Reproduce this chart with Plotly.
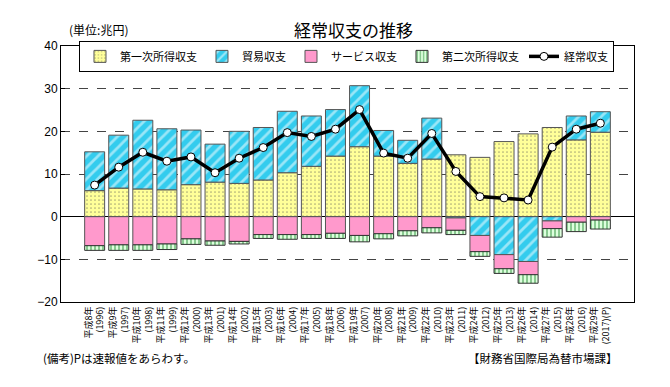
import plotly.graph_objects as go

years = ["平成8年<br>(1996)", "平成9年<br>(1997)", "平成10年<br>(1998)", "平成11年<br>(1999)",
         "平成12年<br>(2000)", "平成13年<br>(2001)", "平成14年<br>(2002)", "平成15年<br>(2003)",
         "平成16年<br>(2004)", "平成17年<br>(2005)", "平成18年<br>(2006)", "平成19年<br>(2007)",
         "平成20年<br>(2008)", "平成21年<br>(2009)", "平成22年<br>(2010)", "平成23年<br>(2011)",
         "平成24年<br>(2012)", "平成25年<br>(2013)", "平成26年<br>(2014)", "平成27年<br>(2015)",
         "平成28年<br>(2016)", "平成29年<br>(2017)(P)"]

primary_income = [6.1, 6.7, 6.5, 6.3, 7.5, 8.1, 7.8, 8.6, 10.3, 11.8, 14.2, 16.4,
                  14.2, 12.5, 13.5, 14.5, 13.9, 17.6, 19.4, 20.9, 18.0, 19.8]
trade = [9.1, 12.4, 16.1, 14.3, 12.8, 8.9, 12.2, 12.3, 14.4, 11.8, 10.9, 14.3,
         6.0, 5.4, 9.6, -0.3, -4.4, -8.9, -10.5, -1.0, 5.6, 4.8]
services = [-6.8, -6.6, -6.6, -6.4, -5.2, -5.7, -5.8, -4.2, -4.2, -4.2, -3.9, -4.4,
            -4.0, -3.3, -2.6, -2.9, -3.8, -3.3, -3.1, -1.8, -1.3, -0.8]
secondary_income = [-1.1, -1.3, -1.3, -1.3, -1.3, -1.0, -0.6, -0.9, -1.1, -0.9, -1.2, -1.5,
                    -1.2, -1.2, -1.2, -1.0, -1.1, -1.1, -2.0, -2.0, -2.2, -2.1]
current_account = [7.4, 11.6, 15.1, 13.0, 14.0, 10.3, 13.7, 16.2, 19.7, 18.8, 20.5, 25.1,
                   14.9, 13.7, 19.5, 10.6, 4.7, 4.4, 3.9, 16.3, 20.5, 21.9]

JP = "Noto Sans CJK JP"
outline = dict(color="#555555", width=1)

fig = go.Figure()
fig.add_trace(go.Bar(
    x=years, y=primary_income, name="第一次所得収支",
    marker=dict(color="#FFFF99", line=outline,
                pattern=dict(shape=".", bgcolor="#FFFF99", fgcolor="#555555",
                             size=4, solidity=0.15)),
))
fig.add_trace(go.Bar(
    x=years, y=trade, name="貿易収支",
    marker=dict(color="#33CCEE", line=outline,
                pattern=dict(shape="/", bgcolor="#33CCEE", fgcolor="#FFFFFF",
                             size=8, solidity=0.35)),
))
fig.add_trace(go.Bar(
    x=years, y=services, name="サービス収支",
    marker=dict(color="#FF99CC", line=outline),
))
fig.add_trace(go.Bar(
    x=years, y=secondary_income, name="第二次所得収支",
    marker=dict(color="#CCFFCC", line=dict(color="#333333", width=1),
                pattern=dict(shape="|", bgcolor="#DDFFDD", fgcolor="#228833",
                             size=4, solidity=0.45)),
))
fig.add_trace(go.Scatter(
    x=years, y=current_account, name="経常収支", mode="lines+markers",
    line=dict(color="black", width=3.5),
    marker=dict(color="white", size=8, line=dict(color="black", width=1)),
))

fig.update_layout(
    width=670, height=387,
    margin=dict(l=53, r=44, t=38, b=93),
    barmode="relative", bargap=0.17,
    plot_bgcolor="white", paper_bgcolor="white",
    font=dict(family=JP, color="black"),
    legend=dict(orientation="h", x=0.0314, y=1.02, xanchor="left", yanchor="top",
                bgcolor="white", bordercolor="black", borderwidth=1,
                font=dict(family=JP, size=11), traceorder="normal",
                itemwidth=30, tracegroupgap=0),
    showlegend=True,
)
fig.update_xaxes(
    type="category", tickangle=-90, tickfont=dict(family=JP, size=9),
    showline=True, linecolor="black", linewidth=1, mirror=True,
    showgrid=False, ticks="",
)
fig.update_yaxes(
    range=[-20, 40], dtick=10, tickfont=dict(family="Liberation Sans", size=12),
    showline=True, linecolor="black", linewidth=1, mirror=True,
    showgrid=True, gridcolor="#444444", griddash="dash", gridwidth=1,
    zeroline=True, zerolinecolor="black", zerolinewidth=1,
    ticks="inside", ticklen=4, tickcolor="black",
)

fig.add_annotation(text="経常収支の推移", xref="paper", yref="paper", x=0.51, y=1.065,
                   xanchor="center", yanchor="middle", showarrow=False,
                   font=dict(family=JP, size=17))
fig.add_annotation(text="(単位:兆円)", xref="paper", yref="paper", x=0.065, y=1.065,
                   xanchor="center", yanchor="middle", showarrow=False,
                   font=dict(family=JP, size=12))
fig.add_annotation(text="(備考)Pは速報値をあらわす。", xref="paper", yref="paper", x=-0.035, y=-0.219,
                   xanchor="left", yanchor="middle", showarrow=False,
                   font=dict(family=JP, size=11.5))
fig.add_annotation(text="【財務省国際局為替市場課】", xref="paper", yref="paper", x=0.9756, y=-0.219,
                   xanchor="right", yanchor="middle", showarrow=False,
                   font=dict(family=JP, size=11.5))

fig.write_html("out.html")
